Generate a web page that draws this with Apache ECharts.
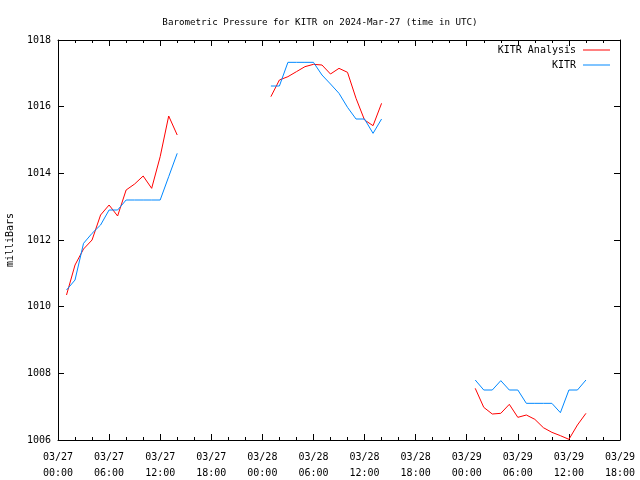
<!DOCTYPE html>
<html>
<head>
<meta charset="utf-8">
<script src="https://cdn.jsdelivr.net/npm/echarts@6/dist/echarts.min.js"></script>
<style>html,body{margin:0;padding:0;background:#fff}#c{width:640px;height:480px}</style>
</head>
<body>
<div id="c"></div>
<script>
// Hours since 2024-03-27 00:00 UTC
var seg1Hours = [1,2,3,4,5,6,7,8,9,10,11,12,13,14];
var seg2Hours = [25,26,27,28,29,30,31,32,33,34,35,36,37,38];
var seg3Hours = [49,50,51,52,53,54,55,56,57,58,59,60,61,62];

var analysisSeg1 = [1010.35,1011.25,1011.73,1012.0,1012.75,1013.05,1012.72,1013.5,1013.68,1013.92,1013.55,1014.5,1015.72,1015.15];
var analysisSeg2 = [1016.3,1016.8,1016.9,1017.05,1017.2,1017.27,1017.25,1016.98,1017.15,1017.03,1016.25,1015.6,1015.43,1016.1];
var analysisSeg3 = [1007.55,1006.98,1006.78,1006.8,1007.07,1006.68,1006.75,1006.62,1006.37,1006.23,1006.13,1006.02,1006.45,1006.8];

var kitrSeg1 = [1010.5,1010.8,1011.9,1012.2,1012.45,1012.9,1012.9,1013.2,1013.2,1013.2,1013.2,1013.2,1013.9,1014.6];
var kitrSeg2 = [1016.62,1016.62,1017.33,1017.33,1017.33,1017.33,1016.95,1016.68,1016.4,1015.98,1015.63,1015.63,1015.2,1015.63];
var kitrSeg3 = [1007.8,1007.5,1007.5,1007.78,1007.5,1007.5,1007.1,1007.1,1007.1,1007.1,1006.82,1007.5,1007.5,1007.8];

var xTickLabels = ['03/27\n00:00','03/27\n06:00','03/27\n12:00','03/27\n18:00','03/28\n00:00','03/28\n06:00','03/28\n12:00','03/28\n18:00','03/29\n00:00','03/29\n06:00','03/29\n12:00','03/29\n18:00'];

function build(segs) {
  var out = [];
  segs.forEach(function (s, i) {
    if (i > 0) out.push([s[0][0] - 1, null]);
    s[0].forEach(function (h, j) { out.push([h, s[1][j]]); });
  });
  return out;
}
var analysisData = build([[seg1Hours, analysisSeg1],[seg2Hours, analysisSeg2],[seg3Hours, analysisSeg3]]);
var kitrData = build([[seg1Hours, kitrSeg1],[seg2Hours, kitrSeg2],[seg3Hours, kitrSeg3]]);

var FONT = 'DejaVu Sans Mono';
var chart = echarts.init(document.getElementById('c'), null, {renderer: 'canvas'});
var axisCommon = {
  axisLine: {show: true, onZero: false, lineStyle: {color: '#000', width: 1}},
  splitLine: {show: false}
};
chart.setOption({
  animation: false,
  backgroundColor: '#fff',
  title: {
    text: 'Barometric Pressure for KITR on 2024-Mar-27 (time in UTC)',
    left: 'center', top: 13,
    textStyle: {fontFamily: FONT, fontSize: 9.2, fontWeight: 'normal', color: '#000'}
  },
  legend: {
    orient: 'vertical', right: 25, top: 40, align: 'right',
    itemWidth: 27, itemHeight: 1, itemGap: 5,
    icon: 'rect',
    textStyle: {fontFamily: FONT, fontSize: 10, color: '#000', padding: [0, 2, 0, 0]},
    data: ['KITR Analysis', 'KITR']
  },
  grid: {left: 58, right: 20, top: 40, bottom: 40, outerBoundsMode: 'none', containLabel: false},
  xAxis: [
    Object.assign({
      type: 'value', min: 0, max: 66, interval: 6, position: 'bottom',
      axisTick: {show: true, inside: true, length: 6, lineStyle: {color: '#000'}},
      minorTick: {show: true, splitNumber: 3, length: 3, lineStyle: {color: '#000'}},
      axisLabel: {
        fontFamily: FONT, fontSize: 10, color: '#000', margin: 9, lineHeight: 16,
        formatter: function (v) { return xTickLabels[Math.round(v / 6)]; }
      }
    }, axisCommon),
    Object.assign({
      type: 'value', min: 0, max: 66, interval: 6, position: 'top',
      axisTick: {show: true, inside: true, length: 6, lineStyle: {color: '#000'}},
      minorTick: {show: true, splitNumber: 3, length: 3, lineStyle: {color: '#000'}},
      axisLabel: {show: false}
    }, axisCommon)
  ],
  yAxis: [
    Object.assign({
      type: 'value', min: 1006, max: 1018, interval: 2, position: 'left',
      name: 'milliBars', nameLocation: 'middle', nameGap: 43, nameRotate: 90,
      nameTextStyle: {fontFamily: FONT, fontSize: 10, color: '#000'},
      axisTick: {show: true, inside: true, length: 6, lineStyle: {color: '#000'}},
      axisLabel: {fontFamily: FONT, fontSize: 10, color: '#000', margin: 7,
        formatter: function (v) { return String(v); }}
    }, axisCommon),
    Object.assign({
      type: 'value', min: 1006, max: 1018, interval: 2, position: 'right',
      axisTick: {show: true, inside: true, length: 6, lineStyle: {color: '#000'}},
      axisLabel: {show: false}
    }, axisCommon)
  ],
  series: [
    {
      name: 'KITR Analysis', type: 'line', data: analysisData, xAxisIndex: 0, yAxisIndex: 0,
      showSymbol: false, symbol: 'none', connectNulls: false,
      lineStyle: {color: '#ff0000', width: 1}, itemStyle: {color: '#ff0000'}
    },
    {
      name: 'KITR', type: 'line', data: kitrData, xAxisIndex: 0, yAxisIndex: 0,
      showSymbol: false, symbol: 'none', connectNulls: false,
      lineStyle: {color: '#0088ff', width: 1}, itemStyle: {color: '#0088ff'}
    }
  ]
});
</script>
</body>
</html>
